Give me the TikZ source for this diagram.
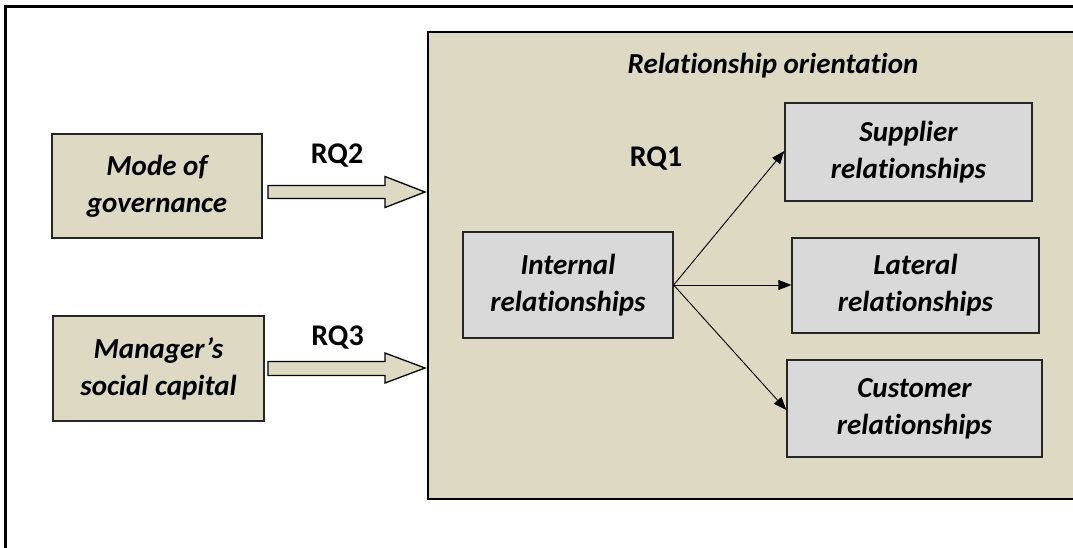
\documentclass[tikz,border=0pt]{standalone}
\usepackage{fontspec}
\setmainfont{Carlito}[Ligatures=CommonOff]
\usetikzlibrary{arrows.meta}
\definecolor{tan}{RGB}{221,217,195}
\definecolor{lgray}{RGB}{217,217,217}
\tikzset{
  tanbox/.style={draw=black!85, line width=1.3pt, fill=tan, minimum width=#1, inner sep=0pt, align=center,
    font=\fontsize{29}{37}\selectfont\bfseries\itshape},
  graybox/.style={draw=black!85, line width=1.3pt, fill=lgray, inner sep=0pt, align=center,
    font=\fontsize{29}{37}\selectfont\bfseries\itshape},
  rqlabel/.style={font=\fontsize{30}{34}\selectfont\bfseries, inner sep=0pt},
  blockarrow/.style={draw=black, line width=1.3pt, fill=tan, line join=miter},
  conn/.style={draw=black, line width=0.9pt, -{Triangle[length=13pt,width=10pt]}},
}
\begin{document}
\begin{tikzpicture}[x=1pt,y=-1pt]
\useasboundingbox (0,0) rectangle (1073,547);
\clip (0,0) rectangle (1073,547);
\fill[white] (0,0) rectangle (1073,547);
% outer frame
\draw[line width=3pt] (5,560) -- (5,6) -- (1090,6);
% big box
\node (ro) [draw=black, line width=2pt, fill=tan, minimum width=662pt, minimum height=467pt, inner sep=0pt]
  at (759,265) {};
\node (title) [font=\fontsize{29}{34}\selectfont\bfseries\itshape, inner sep=0pt, anchor=base] at (773,73) {Relationship orientation};
\node (rq1) [rqlabel, anchor=base] at (656,166) {RQ1};
% left boxes
\node (mg) [tanbox=210pt, minimum height=104pt] at (157,186) {Mode of\\governance};
\node (ms) [tanbox=211pt, minimum height=105pt] at (158.5,368.5) {Manager’s\\social capital};
\node (rq2) [rqlabel, anchor=base] at (337,163) {RQ2};
\node (rq3) [rqlabel, anchor=base] at (337.5,345) {RQ3};
% block arrows
\draw[blockarrow] (268,185.5) -- (385,185.5) -- (385,176.5) -- (425,192) -- (385,207.5) -- (385,198.5) -- (268,198.5) -- cycle;
\draw[blockarrow] (268,361.5) -- (385,361.5) -- (385,353) -- (425,368) -- (385,383) -- (385,375.5) -- (268,375.5) -- cycle;
% inner boxes
\node (ir) [graybox, minimum width=210pt, minimum height=106pt] at (568,285) {Internal\\relationships};
\node (sr) [graybox, minimum width=247pt, minimum height=98pt] at (908.5,152) {Supplier\\relationships};
\node (lr) [graybox, minimum width=247pt, minimum height=95pt] at (915.5,285.5) {Lateral\\relationships};
\node (cr) [graybox, minimum width=255pt, minimum height=97pt] at (914.5,408.5) {Customer\\relationships};
% connectors
\draw[conn] (ir.east) -- ([yshift=1pt]sr.west);
\draw[conn] (ir.east) -- (lr.west |- ir.east);
\draw[conn] (ir.east) -- ([yshift=-1.5pt]cr.west);
\end{tikzpicture}
\end{document}
